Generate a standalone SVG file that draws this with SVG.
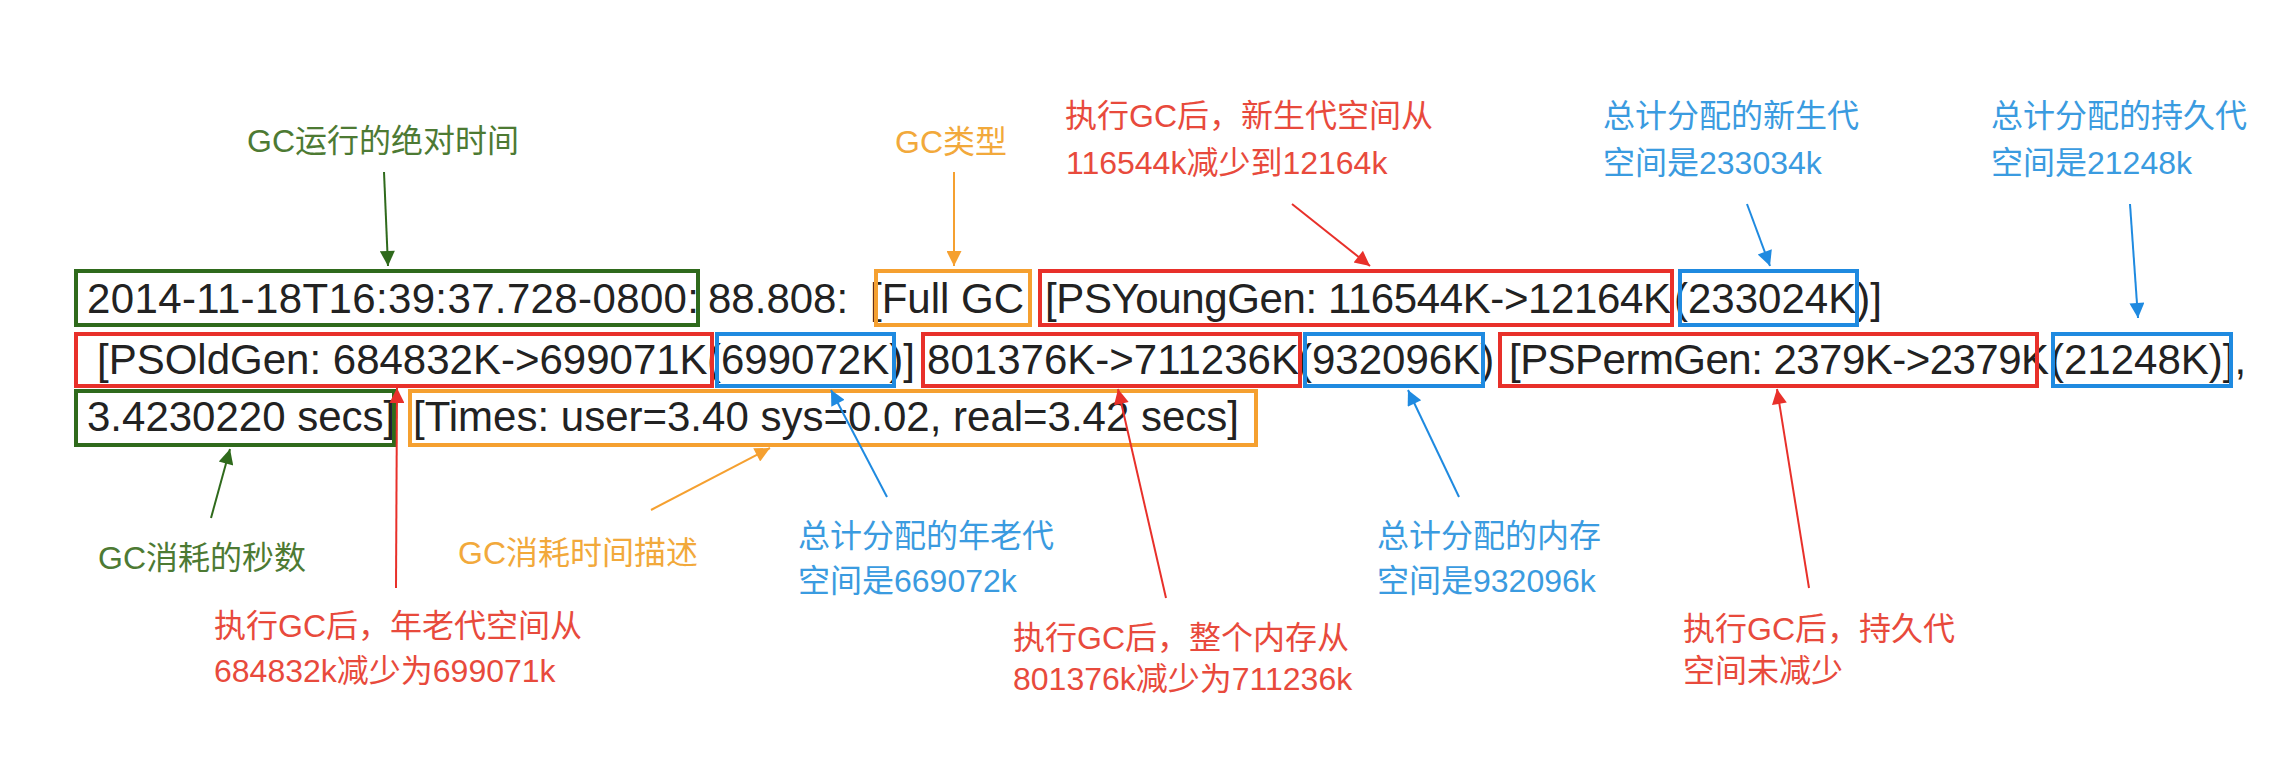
<svg xmlns="http://www.w3.org/2000/svg" width="2290" height="760" viewBox="0 0 2290 760">
<defs>
<style>
.code{font-family:"Liberation Sans",Arial,sans-serif;font-size:42px;fill:#222}
.lbl{font-family:"Liberation Sans","Noto Sans CJK SC",sans-serif;font-size:32px}
.box{fill:none;stroke-width:4}
.g{stroke:#2f6a1c}.r{stroke:#e8302a}.b{stroke:#1f8ae0}.o{stroke:#f5a030}
.tg{fill:#4d7a33}.tr{fill:#e84a3c}.tb{fill:#3a9be0}.to{fill:#f2a93b}
.ln{fill:none;stroke-width:2}
</style>
<marker id="mg" viewBox="0 0 10 10" refX="10" refY="5" markerUnits="userSpaceOnUse" markerWidth="24" markerHeight="15" orient="auto"><path d="M0,0 L10,5 L0,10 z" fill="#2f6a1c"/></marker>
<marker id="mr" viewBox="0 0 10 10" refX="10" refY="5" markerUnits="userSpaceOnUse" markerWidth="24" markerHeight="15" orient="auto"><path d="M0,0 L10,5 L0,10 z" fill="#e8302a"/></marker>
<marker id="mb" viewBox="0 0 10 10" refX="10" refY="5" markerUnits="userSpaceOnUse" markerWidth="24" markerHeight="15" orient="auto"><path d="M0,0 L10,5 L0,10 z" fill="#1f8ae0"/></marker>
<marker id="mo" viewBox="0 0 10 10" refX="10" refY="5" markerUnits="userSpaceOnUse" markerWidth="24" markerHeight="15" orient="auto"><path d="M0,0 L10,5 L0,10 z" fill="#f5a030"/></marker>
</defs>
<rect width="2290" height="760" fill="#ffffff"/>

<g id="log-text">
<text class="code" x="87" y="313" textLength="612">2014-11-18T16:39:37.728-0800:</text>
<text class="code" x="708" y="313">88.808:</text>
<text class="code" x="870" y="313">[Full GC</text>
<text class="code" x="1045" y="313" textLength="626">[PSYoungGen: 116544K-&gt;12164K</text>
<text class="code" x="1674" y="313">(233024K)]</text>

<text class="code" x="97" y="374">[PSOldGen: 684832K-&gt;699071K</text>
<text class="code" x="707" y="374">(699072K)]</text>
<text class="code" x="927" y="374" textLength="372">801376K-&gt;711236K</text>
<text class="code" x="1298" y="374">(932096K)</text>
<text class="code" x="1509" y="374" textLength="540">[PSPermGen: 2379K-&gt;2379K</text>
<text class="code" x="2050" y="374">(21248K)],</text>

<text class="code" x="87" y="431">3.4230220 secs]</text>
<text class="code" x="413" y="431">[Times: user=3.40 sys=0.02, real=3.42 secs]</text>
</g>

<g id="node-timestamp"><rect class="box g" x="76" y="271" width="622" height="54"/><text class="lbl tg" x="247" y="152">GC运行的绝对时间</text></g>
<g id="node-gctype"><rect class="box o" x="876" y="271" width="154" height="54"/><text class="lbl to" x="895" y="153">GC类型</text></g>
<g id="node-young"><rect class="box r" x="1040" y="271" width="632" height="54"/><text class="lbl tr" x="1065" y="127">执行GC后，新生代空间从</text><text class="lbl tr" x="1066" y="174">116544k减少到12164k</text></g>
<g id="node-young-total"><rect class="box b" x="1680" y="271" width="177" height="54"/><text class="lbl tb" x="1603" y="127">总计分配的新生代</text><text class="lbl tb" x="1603" y="174">空间是233034k</text></g>

<g id="node-old"><rect class="box r" x="76" y="334" width="636" height="52"/><text class="lbl tr" x="214" y="637">执行GC后，年老代空间从</text><text class="lbl tr" x="214" y="682">684832k减少为699071k</text></g>
<g id="node-old-total"><rect class="box b" x="717" y="334" width="177" height="52"/><text class="lbl tb" x="798" y="547">总计分配的年老代</text><text class="lbl tb" x="798" y="592">空间是669072k</text></g>
<g id="node-heap"><rect class="box r" x="923" y="334" width="377" height="52"/><text class="lbl tr" x="1013" y="649">执行GC后，整个内存从</text><text class="lbl tr" x="1013" y="690">801376k减少为711236k</text></g>
<g id="node-heap-total"><rect class="box b" x="1305" y="334" width="178" height="52"/><text class="lbl tb" x="1377" y="547">总计分配的内存</text><text class="lbl tb" x="1377" y="592">空间是932096k</text></g>
<g id="node-perm"><rect class="box r" x="1500" y="334" width="537" height="52"/><text class="lbl tr" x="1683" y="640">执行GC后，持久代</text><text class="lbl tr" x="1683" y="682">空间未减少</text></g>
<g id="node-perm-total"><rect class="box b" x="2053" y="334" width="178" height="52"/><text class="lbl tb" x="1991" y="127">总计分配的持久代</text><text class="lbl tb" x="1991" y="174">空间是21248k</text></g>

<g id="node-secs"><rect class="box g" x="76" y="391" width="318" height="54"/><text class="lbl tg" x="98" y="569">GC消耗的秒数</text></g>
<g id="node-times"><rect class="box o" x="410" y="391" width="846" height="54"/><text class="lbl to" x="458" y="564">GC消耗时间描述</text></g>

<g id="connectors">
<line class="ln" stroke="#2f6a1c" x1="384" y1="172" x2="388" y2="266" marker-end="url(#mg)"/>
<line class="ln" stroke="#f5a030" x1="954" y1="172" x2="954" y2="266" marker-end="url(#mo)"/>
<line class="ln" stroke="#e8302a" x1="1292" y1="204" x2="1370" y2="266" marker-end="url(#mr)"/>
<line class="ln" stroke="#1f8ae0" x1="1747" y1="204" x2="1770" y2="266" marker-end="url(#mb)"/>
<line class="ln" stroke="#1f8ae0" x1="2130" y1="204" x2="2138" y2="318" marker-end="url(#mb)"/>
<line class="ln" stroke="#2f6a1c" x1="211" y1="518" x2="230" y2="449" marker-end="url(#mg)"/>
<line class="ln" stroke="#e8302a" x1="396" y1="588" x2="397" y2="388" marker-end="url(#mr)"/>
<line class="ln" stroke="#f5a030" x1="651" y1="510" x2="770" y2="448" marker-end="url(#mo)"/>
<line class="ln" stroke="#1f8ae0" x1="887" y1="497" x2="831" y2="390" marker-end="url(#mb)"/>
<line class="ln" stroke="#e8302a" x1="1166" y1="598" x2="1118" y2="389" marker-end="url(#mr)"/>
<line class="ln" stroke="#1f8ae0" x1="1459" y1="497" x2="1408" y2="390" marker-end="url(#mb)"/>
<line class="ln" stroke="#e8302a" x1="1809" y1="588" x2="1777" y2="389" marker-end="url(#mr)"/>
</g>
</svg>
